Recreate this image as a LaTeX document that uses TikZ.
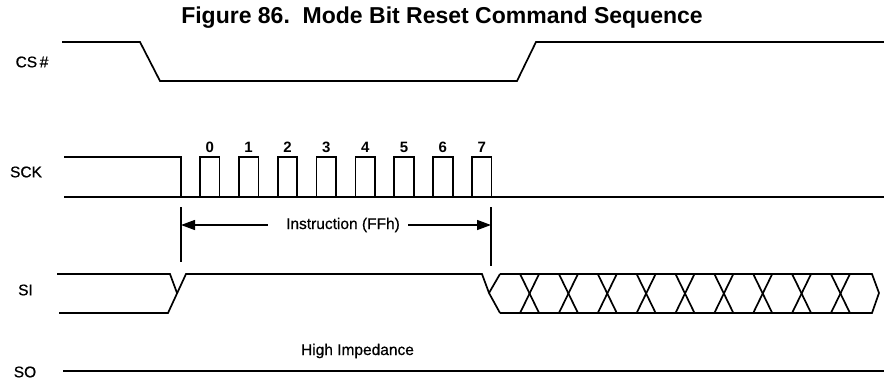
\documentclass[tikz,border=0pt]{standalone}
\usepackage{fontspec}
\setmainfont{Liberation Sans}
\newfontfamily\semibf[FakeBold=0.7]{Liberation Sans}
\usetikzlibrary{arrows.meta}
\begin{document}
\begin{tikzpicture}[x=1pt,y=-1pt,
  sig/.style={line width=1.7pt,line join=miter},
  thin/.style={line width=1.3pt},
  lbl/.style={font=\fontsize{15.5}{17}\semibf,inner sep=0pt},
  num/.style={font=\fontsize{15}{17}\selectfont\bfseries,inner sep=0pt},
  ttl/.style={font=\fontsize{23}{26}\selectfont\bfseries,inner sep=0pt}]
\useasboundingbox (0,0) rectangle (884,383);
% title
\node[ttl,anchor=base] (title) at (442,23) {Figure 86.\ \ Mode Bit Reset Command Sequence};
% labels
\node[lbl] (lcs) at (32,62) {CS\,\#};
\node[lbl] (lsck) at (26,172) {SCK};
\node[lbl] (lsi) at (25.5,290) {SI};
\node[lbl] (lso) at (25,372) {SO};
% CS#
\draw[sig] (62,42) -- (140,42) -- (160,81) -- (517,81) -- (536,42) -- (884,42);
% SCK
\draw[sig] (64,157) -- (181,157) -- (181,197);
\draw[sig] (64,197) -- (884,197);
\foreach \k in {0,...,7}{
  \pgfmathsetmacro{\r}{200+38.86*\k}
  \pgfmathsetmacro{\f}{\r+19.5}
  \draw[sig] (\r,197) -- (\r,157) -- (\f,157) -- (\f,197);
  \node[num] (n\k) at ({\r+9.75},147) {\k};
}
% instruction markers
\coordinate (t1a) at (181,207);
\coordinate (t1b) at (181,262);
\coordinate (t2a) at (491,207);
\coordinate (t2b) at (491,266);
\draw[thin] (t1a) -- (t1b);
\draw[thin] (t2a) -- (t2b);
\node[lbl] (instr) at (343,225) {Instruction (FFh)};
\coordinate (al) at (181,225);
\coordinate (ar) at (491,225);
\draw[thin,-{Triangle[length=14pt,width=10pt]}] (instr.west) ++(-18,0) -- (al);
\draw[thin,-{Triangle[length=14pt,width=10pt]}] (instr.east) ++(8,0) -- (ar);
% SI
\draw[sig] (57,274) -- (170,274) -- (177,293);
\draw[sig] (59,313) -- (168,313) -- (186,274) -- (482,274) -- (489,293) -- (500,313);
\draw[sig] (489,293) -- (500,274);
\draw[sig] (500,274) -- (872,274) -- (879,293) -- (872,313) -- (500,313);
\foreach \k in {1,...,9}{
  \pgfmathsetmacro{\c}{490.7+38.86*\k}
  \draw[sig] ({\c-9.5},274) -- ({\c+9.5},313);
  \draw[sig] ({\c+9.5},274) -- ({\c-9.5},313);
}
% SO
\draw[sig] (63,371) -- (884,371);
\node[lbl,anchor=base] (hiz) at (357.5,355) {High Impedance};
\end{tikzpicture}
\end{document}
